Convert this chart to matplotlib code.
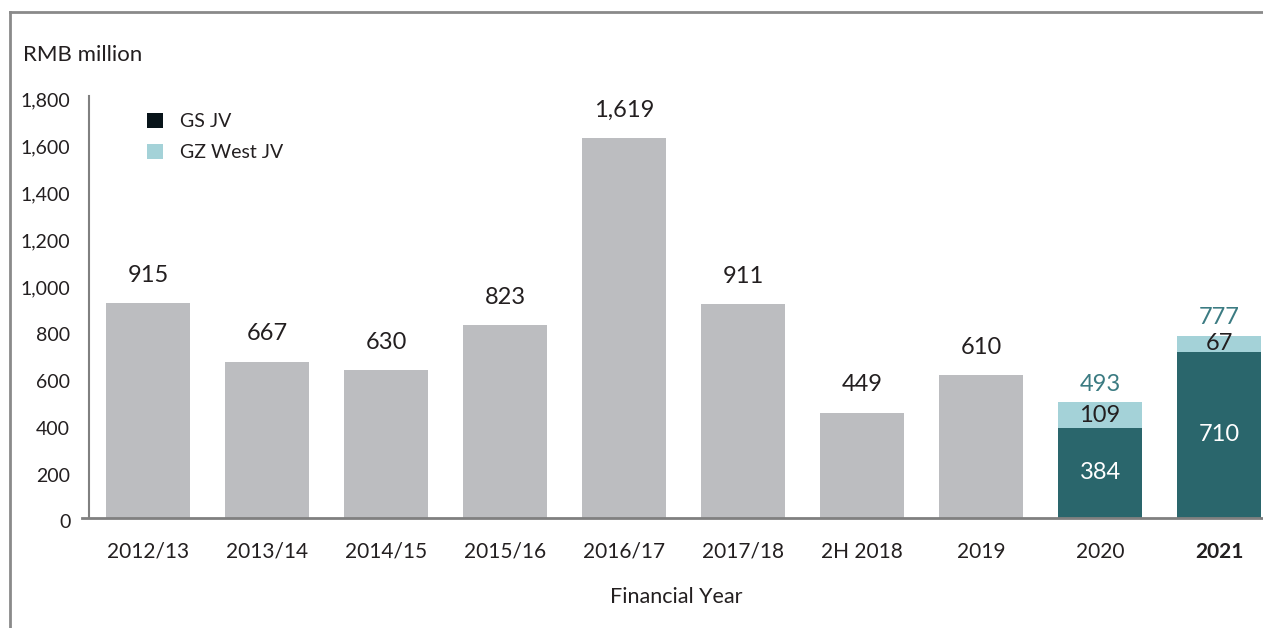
import matplotlib
matplotlib.use("Agg")
import matplotlib.pyplot as plt
from matplotlib.lines import Line2D
from matplotlib.patches import Patch

plt.rcParams['font.family'] = ['Lato', 'DejaVu Sans']

# Data (RMB million)
years = ["2012/13", "2013/14", "2014/15", "2015/16", "2016/17",
         "2017/18", "2H 2018", "2019", "2020", "2021"]
totals_single = [915, 667, 630, 823, 1619, 911, 449, 610]
gs_jv = [384, 710]
gz_west_jv = [109, 67]
yticks = [0, 200, 400, 600, 800, 1000, 1200, 1400, 1600, 1800]

GREY = "#bcbdc0"
DARK_TEAL = "#2a666c"
LIGHT_TEAL = "#a4d2d8"
LEGEND_DARK = "#08141a"
TOTAL_COLOR = "#3b7b82"
TEXT = "#231f20"
AXIS = "#808080"

fig = plt.figure(figsize=(12.63, 6.28), dpi=100)
ax = fig.add_axes([82 / 1263, 110 / 628, 1 - 82 / 1263, (518 - 96) / 628])

n_single = len(totals_single)
x_single = list(range(n_single))
x_stack = [n_single, n_single + 1]
width = 0.706
spine_x = (89 - 148) / 119

ax.bar(x_single, totals_single, width=width, color=GREY, zorder=2)
ax.bar(x_stack, gs_jv, width=width, color=DARK_TEAL, zorder=2)
ax.bar(x_stack, gz_west_jv, width=width, bottom=gs_jv, color=LIGHT_TEAL, zorder=2)

# value labels above single bars
for xi, v in zip(x_single, totals_single):
    ax.annotate(f"{v:,}", (xi, v), xytext=(0, 20), textcoords="offset points",
                ha="center", va="center", fontsize=17, color=TEXT)

# stacked bar labels
for xi, a, b in zip(x_stack, gs_jv, gz_west_jv):
    ax.text(xi, a / 2, f"{a:,}", ha="center", va="center", fontsize=17, color="white")
    ax.text(xi, a + b / 2, f"{b:,}", ha="center", va="center", fontsize=17, color=TEXT)
    ax.annotate(f"{a + b:,}", (xi, a + b), xytext=(0, 13), textcoords="offset points",
                ha="center", va="center", fontsize=17, color=TOTAL_COLOR)

ax.set_xlim((82 - 148) / 119, (1263 - 148) / 119)
ax.set_ylim(0, 1800)

ax.tick_params(axis="both", length=0, labelcolor=TEXT)
ax.tick_params(axis="x", pad=17, labelsize=15)
ax.set_xticks(range(len(years)))
ax.set_xticklabels(years)
ax.get_xticklabels()[-1].set_fontweight("bold")

# y tick labels, set slightly below their gridline positions
ax.set_yticks(yticks)
ax.tick_params(axis="y", labelleft=False)
for t in yticks:
    ax.annotate(f"{t:,}", (spine_x, t), xytext=(-13.5, -3.6), textcoords="offset points",
                ha="right", va="center", fontsize=14, color=TEXT, annotation_clip=False)

for side in ("top", "right"):
    ax.spines[side].set_visible(False)
ax.spines["left"].set_position(("data", spine_x))
ax.spines["left"].set_color(AXIS)
ax.spines["left"].set_linewidth(1.5)
ax.spines["bottom"].set_color(AXIS)
ax.spines["bottom"].set_linewidth(2)

fig.text(676 / 1263, 1 - 597 / 628, "Financial Year", fontsize=15.5, color=TEXT,
         ha="center", va="center")
fig.text(23 / 1263, 1 - 55 / 628, "RMB million", fontsize=16, color=TEXT,
         ha="left", va="center")

handles = [Patch(facecolor=LEGEND_DARK), Patch(facecolor=LIGHT_TEAL)]
leg = fig.legend(handles, ["GS JV", "GZ West JV"], loc="upper left",
                 bbox_to_anchor=(131 / 1263, 1 - 97 / 628), frameon=False,
                 fontsize=14, handlelength=0.85, handleheight=0.85,
                 handletextpad=0.85, labelspacing=0.7, labelcolor=TEXT,
                 borderpad=0.3)

# outer frame (left and top edges)
fig.add_artist(Line2D([10 / 1263, 10 / 1263], [0, 1 - 12 / 628],
                      transform=fig.transFigure, color="#8a8a8a", linewidth=2))
fig.add_artist(Line2D([10 / 1263, 1], [1 - 12 / 628, 1 - 12 / 628],
                      transform=fig.transFigure, color="#8a8a8a", linewidth=2))

fig.savefig("out.png", dpi=100)
